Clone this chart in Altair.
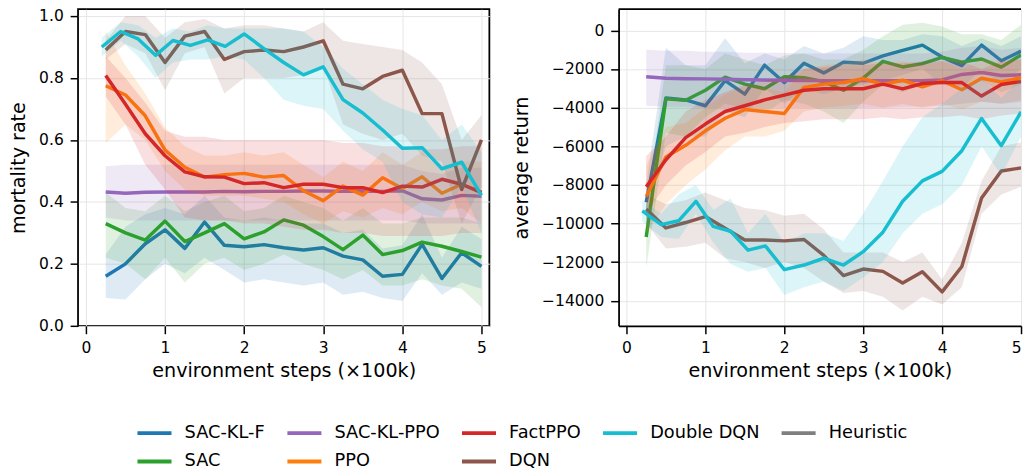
import altair as alt
import pandas as pd

FONT = "DejaVu Sans"

# ---------------- data ----------------
STEPS = [0.25, 0.5, 0.75, 1.0, 1.25, 1.5, 1.75, 2.0, 2.25, 2.5,
         2.75, 3.0, 3.25, 3.5, 3.75, 4.0, 4.25, 4.5, 4.75, 5.0]
DDQN_STEPS = [0.2, 0.44, 0.66, 0.88, 1.1, 1.32, 1.54, 1.76, 2.0, 2.25, 2.5,
              2.75, 3.0, 3.25, 3.5, 3.75, 4.0, 4.25, 4.5, 4.75, 5.0]

LEGEND_ORDER = ["SAC-KL-F", "SAC-KL-PPO", "FactPPO", "Double DQN", "Heuristic",
                "SAC", "PPO", "DQN"]
LEGEND_COLORS = ["#1f77b4", "#9467bd", "#d62728", "#17becf", "#7f7f7f",
                 "#2ca02c", "#ff7f0e", "#8c564b"]
DRAW_ORDER = ["SAC-KL-F", "SAC", "SAC-KL-PPO", "PPO", "FactPPO", "DQN", "Double DQN"]

# mortality rate (left panel)
MORT_SACKLF = [0.16, 0.20, 0.265, 0.31, 0.25, 0.335, 0.26, 0.255, 0.262, 0.252,
               0.245, 0.252, 0.225, 0.213, 0.16, 0.166, 0.263, 0.153, 0.236, 0.192]
MORT_SACKLF_LO = [0.09, 0.085, 0.15, 0.2, 0.17, 0.22, 0.18, 0.14, 0.15, 0.14,
                  0.13, 0.14, 0.1, 0.11, 0.09, 0.08, 0.17, 0.1, 0.14, 0.12]
MORT_SACKLF_HI = [0.23, 0.32, 0.36, 0.38, 0.36, 0.42, 0.35, 0.34, 0.35, 0.34,
                  0.33, 0.33, 0.3, 0.31, 0.25, 0.26, 0.36, 0.22, 0.32, 0.28]

MORT_SAC = [0.33, 0.3, 0.277, 0.338, 0.272, 0.3, 0.33, 0.281, 0.303, 0.342,
            0.325, 0.288, 0.246, 0.293, 0.23, 0.243, 0.27, 0.257, 0.24, 0.222]
MORT_SAC_LO = [0.22, 0.2, 0.15, 0.22, 0.14, 0.2, 0.22, 0.18, 0.2, 0.23,
               0.2, 0.18, 0.15, 0.18, 0.13, 0.13, 0.15, 0.13, 0.12, 0.06]
MORT_SAC_HI = [0.43, 0.38, 0.37, 0.42, 0.37, 0.4, 0.42, 0.37, 0.38, 0.42,
               0.4, 0.38, 0.34, 0.38, 0.33, 0.33, 0.35, 0.35, 0.35, 0.33]

MORT_SACKLPPO = [0.432, 0.428, 0.431, 0.432, 0.432, 0.432, 0.434, 0.433, 0.434, 0.434,
                 0.435, 0.435, 0.434, 0.435, 0.434, 0.436, 0.41, 0.406, 0.421, 0.418]
MORT_SACKLPPO_LO = [0.35, 0.34, 0.34, 0.34, 0.34, 0.34, 0.34, 0.34, 0.34, 0.34,
                    0.34, 0.34, 0.34, 0.34, 0.34, 0.34, 0.33, 0.33, 0.33, 0.33]
MORT_SACKLPPO_HI = [0.515, 0.52, 0.52, 0.52, 0.52, 0.52, 0.52, 0.52, 0.52, 0.52,
                    0.52, 0.52, 0.52, 0.52, 0.52, 0.52, 0.5, 0.49, 0.51, 0.51]

MORT_PPO = [0.775, 0.745, 0.678, 0.567, 0.512, 0.48, 0.488, 0.492, 0.48, 0.485,
            0.436, 0.404, 0.451, 0.422, 0.478, 0.443, 0.481, 0.428, 0.457, 0.432]
MORT_PPO_LO = [0.59, 0.65, 0.6, 0.5, 0.44, 0.42, 0.42, 0.42, 0.41, 0.4,
               0.36, 0.33, 0.37, 0.35, 0.38, 0.36, 0.4, 0.37, 0.38, 0.33]
MORT_PPO_HI = [0.95, 0.84, 0.75, 0.64, 0.58, 0.55, 0.55, 0.56, 0.55, 0.56,
               0.52, 0.48, 0.53, 0.5, 0.56, 0.52, 0.56, 0.5, 0.53, 0.53]

MORT_FACTPPO = [0.808, 0.715, 0.62, 0.549, 0.497, 0.481, 0.48, 0.459, 0.462, 0.446,
                0.457, 0.457, 0.446, 0.446, 0.43, 0.451, 0.448, 0.473, 0.457, 0.43]
MORT_FACTPPO_LO = [0.74, 0.65, 0.52, 0.44, 0.35, 0.34, 0.34, 0.33, 0.33, 0.32,
                   0.31, 0.31, 0.3, 0.3, 0.29, 0.29, 0.29, 0.29, 0.3, 0.3]
MORT_FACTPPO_HI = [0.87, 0.8, 0.72, 0.63, 0.61, 0.61, 0.6, 0.6, 0.6, 0.6,
                   0.6, 0.6, 0.59, 0.59, 0.58, 0.58, 0.57, 0.57, 0.58, 0.58]

MORT_DQN = [0.89, 0.95, 0.94, 0.85, 0.935, 0.95, 0.86, 0.885, 0.89, 0.885,
            0.9, 0.92, 0.78, 0.765, 0.805, 0.825, 0.685, 0.685, 0.44, 0.6]
MORT_DQN_LO = [0.86, 0.91, 0.88, 0.76, 0.88, 0.9, 0.75, 0.8, 0.8, 0.8,
               0.81, 0.84, 0.65, 0.62, 0.6, 0.62, 0.55, 0.53, 0.33, 0.45]
MORT_DQN_HI = [0.92, 1.0, 1.0, 0.93, 0.98, 0.99, 0.96, 0.97, 0.97, 0.96,
               0.95, 0.98, 0.92, 0.91, 0.9, 0.89, 0.85, 0.78, 0.6, 0.68]

MORT_DDQN = [0.9, 0.95, 0.926, 0.873, 0.921, 0.905, 0.923, 0.902, 0.942, 0.895, 0.85,
             0.81, 0.836, 0.73, 0.687, 0.632, 0.573, 0.575, 0.507, 0.528, 0.421]
MORT_DDQN_LO = [0.87, 0.92, 0.87, 0.8, 0.85, 0.86, 0.86, 0.87, 0.86, 0.8, 0.73,
                0.71, 0.7, 0.63, 0.57, 0.53, 0.4, 0.36, 0.35, 0.45, 0.3]
MORT_DDQN_HI = [0.93, 0.98, 0.97, 0.93, 0.96, 0.95, 0.97, 0.96, 0.96, 0.96, 0.96,
                0.95, 0.9, 0.83, 0.78, 0.73, 0.7, 0.68, 0.6, 0.65, 0.56]

# average return (right panel)
RET_SACKLF = [-8900, -3500, -3600, -3900, -2600, -3300, -1800, -2700, -1700, -2200,
              -1650, -1700, -1320, -1030, -760, -1380, -1820, -760, -1570, -1070]
RET_SACKLF_LO = [-9800, -6000, -5500, -5500, -4200, -4500, -3000, -3800, -3000, -3300,
                 -3000, -2800, -2600, -2300, -2000, -2800, -3000, -2000, -2800, -2000]
RET_SACKLF_HI = [-8000, -900, -1800, -1800, -400, -1700, -1200, -1500, -800, -1200,
                 -900, -300, -500, -500, -200, -300, -800, -400, -800, -300]

RET_SAC = [-10700, -3540, -3620, -3100, -2420, -2780, -3020, -2400, -2450, -2650,
           -3100, -2470, -1600, -1890, -1720, -1400, -1640, -1480, -1900, -1270]
RET_SAC_LO = [-12300, -5300, -5500, -4500, -3800, -4000, -4300, -3600, -3800, -4200,
              -4800, -3700, -2800, -3200, -2800, -2700, -2900, -2600, -3200, -2800]
RET_SAC_HI = [-9200, -1800, -1800, -2000, -1200, -1500, -1800, -1300, -1200, -1500,
              -1500, -1000, -300, 300, 400, 200, -200, -200, -500, 300]

RET_SACKLPPO = [-2400, -2480, -2500, -2510, -2530, -2550, -2570, -2580, -2590, -2600,
                -2600, -2600, -2600, -2600, -2600, -2560, -2280, -2180, -2330, -2300]
RET_SACKLPPO_LO = [-3900, -3950, -3950, -4000, -4000, -4000, -4000, -4000, -4000, -4000,
                   -4000, -4000, -4000, -3950, -3950, -3900, -3800, -3700, -3800, -3700]
RET_SACKLPPO_HI = [-1000, -1050, -1050, -1100, -1100, -1150, -1150, -1150, -1200, -1200,
                   -1200, -1200, -1200, -1200, -1200, -1100, -900, -800, -1000, -900]

RET_PPO = [-8600, -6550, -5950, -5200, -4550, -4100, -4200, -4300, -2950, -2780,
           -2700, -2500, -2800, -2580, -2920, -2600, -3070, -2480, -2670, -2450]
RET_PPO_LO = [-10500, -9000, -8000, -7200, -6200, -5500, -5500, -5200, -4200, -4000,
              -3900, -3800, -4000, -3800, -4000, -3800, -4100, -3700, -3800, -3600]
RET_PPO_HI = [-7000, -5000, -4800, -4000, -3300, -2900, -3000, -3200, -2000, -1800,
              -1700, -1500, -1700, -1600, -1800, -1600, -2000, -1500, -1600, -1500]

RET_FACTPPO = [-8100, -6700, -5550, -4850, -4200, -3900, -3600, -3350, -3100, -3020,
               -3020, -3020, -2780, -3030, -2750, -2700, -2700, -3400, -2800, -2650]
RET_FACTPPO_LO = [-9500, -8000, -7000, -6300, -5500, -5300, -5000, -4800, -4700, -4600,
                  -4600, -4600, -4500, -4600, -4500, -4500, -4400, -4600, -4400, -4300]
RET_FACTPPO_HI = [-6500, -5500, -4200, -3600, -3200, -2800, -2600, -2400, -2000, -1900,
                  -1800, -1800, -1700, -1700, -1600, -1600, -1600, -2000, -1600, -1500]

RET_DQN = [-9250, -10230, -9950, -9640, -10250, -10850, -10850, -10900, -10830, -11650,
           -12700, -12360, -12480, -13080, -12500, -13540, -12230, -8680, -7280, -7120]
RET_DQN_LO = [-10000, -11300, -11200, -11000, -11800, -12000, -12300, -12000, -12300, -13000,
              -13600, -13500, -13800, -14500, -13800, -14200, -13300, -9500, -8500, -8100]
RET_DQN_HI = [-8500, -9000, -8800, -8400, -8800, -9200, -9300, -9600, -9500, -10300,
              -11500, -11500, -11500, -12000, -11500, -12900, -11000, -7800, -6000, -5800]

RET_DDQN = [-9350, -10060, -9860, -8850, -10150, -10400, -11380, -11160, -12390, -12150, -11800,
            -12150, -11460, -10450, -8850, -7790, -7300, -6230, -4560, -5970, -4220]
RET_DDQN_LO = [-9900, -10700, -10800, -9500, -11000, -12100, -12500, -12300, -13700, -13300, -13000,
               -13500, -12800, -12000, -10500, -9500, -9000, -8000, -6000, -7500, -5500]
RET_DDQN_HI = [-8800, -9500, -8500, -8000, -9300, -8700, -10500, -9500, -11000, -10500, -10500,
               -10900, -9500, -7800, -6000, -4500, -3800, -3000, -2500, -3500, -2500]


def build_df(series):
    rows = []
    for name, (xs, mean, lo, hi) in series.items():
        for x, m, l, h in zip(xs, mean, lo, hi):
            rows.append({"method": name, "step": x, "mean": m, "lo": l, "hi": h})
    return pd.DataFrame(rows)


mort_df = build_df({
    "SAC-KL-F": (STEPS, MORT_SACKLF, MORT_SACKLF_LO, MORT_SACKLF_HI),
    "SAC": (STEPS, MORT_SAC, MORT_SAC_LO, MORT_SAC_HI),
    "SAC-KL-PPO": (STEPS, MORT_SACKLPPO, MORT_SACKLPPO_LO, MORT_SACKLPPO_HI),
    "PPO": (STEPS, MORT_PPO, MORT_PPO_LO, MORT_PPO_HI),
    "FactPPO": (STEPS, MORT_FACTPPO, MORT_FACTPPO_LO, MORT_FACTPPO_HI),
    "DQN": (STEPS, MORT_DQN, MORT_DQN_LO, MORT_DQN_HI),
    "Double DQN": (DDQN_STEPS, MORT_DDQN, MORT_DDQN_LO, MORT_DDQN_HI),
})
ret_df = build_df({
    "SAC-KL-F": (STEPS, RET_SACKLF, RET_SACKLF_LO, RET_SACKLF_HI),
    "SAC": (STEPS, RET_SAC, RET_SAC_LO, RET_SAC_HI),
    "SAC-KL-PPO": (STEPS, RET_SACKLPPO, RET_SACKLPPO_LO, RET_SACKLPPO_HI),
    "PPO": (STEPS, RET_PPO, RET_PPO_LO, RET_PPO_HI),
    "FactPPO": (STEPS, RET_FACTPPO, RET_FACTPPO_LO, RET_FACTPPO_HI),
    "DQN": (STEPS, RET_DQN, RET_DQN_LO, RET_DQN_HI),
    "Double DQN": (DDQN_STEPS, RET_DDQN, RET_DDQN_LO, RET_DDQN_HI),
})

COLOR_OF = dict(zip(LEGEND_ORDER, LEGEND_COLORS))

# ---------------- styling ----------------
TICK_FS = 15.7
TITLE_FS = 19.4
X_TITLE = "environment steps (×100k)"

color_scale = alt.Scale(domain=LEGEND_ORDER, range=LEGEND_COLORS)
legend = alt.Legend(
    title=None, orient="none", legendX=58, legendY=410, direction="horizontal",
    columns=5, padding=0,
    symbolType="stroke", symbolSize=1190, symbolStrokeWidth=4,
    labelFont=FONT, labelFontSize=18, labelColor="black",
    labelOffset=11, columnPadding=14, rowPadding=-7,
)


def panel(df, y_scale, x_scale, y_axis, x_ax, width, height, right_open):
    layers = []
    for m in DRAW_ORDER:
        base = alt.Chart(df).transform_filter(alt.datum.method == m)
        area = base.mark_area(opacity=0.15, clip=True, color=COLOR_OF[m]).encode(
            x=alt.X("step:Q", scale=x_scale, axis=x_ax),
            y=alt.Y("lo:Q", scale=y_scale, axis=y_axis),
            y2="hi:Q",
        )
        line = base.mark_line(strokeWidth=3.5, strokeJoin="round", clip=True).encode(
            x=alt.X("step:Q", scale=x_scale, axis=x_ax),
            y=alt.Y("mean:Q", scale=y_scale, axis=y_axis),
            color=alt.Color("method:N", scale=color_scale, legend=legend),
        )
        layers += [area, line]
    if right_open:
        # top spine only (the right spine of this panel lies outside the figure)
        spine = alt.Chart(pd.DataFrame({"edge": [0]})).mark_rule(
            color="black", strokeWidth=1.8
        ).encode(x=alt.value(0), x2=alt.value(width), y=alt.value(0))
        layers.append(spine)
        view = alt.ViewBackground(stroke="transparent")
    else:
        view = alt.ViewBackground(stroke="black", strokeWidth=1.8)
    return alt.layer(*layers).properties(width=width, height=height, view=view)


left = panel(
    mort_df,
    alt.Scale(domain=[0, 1.022], nice=False, zero=False),
    alt.Scale(domain=[-0.1, 5.1], nice=False, zero=False),
    alt.Axis(values=[0, 0.2, 0.4, 0.6, 0.8, 1.0], format=".1f", title="mortality rate",
             grid=True, domain=False),
    alt.Axis(values=[0, 1, 2, 3, 4, 5], format="d", title=X_TITLE, grid=True, domain=False),
    417, 321, False,
)
right = panel(
    ret_df,
    alt.Scale(domain=[-15300, 1100], nice=False, zero=False),
    alt.Scale(domain=[-0.1, 5.0], nice=False, zero=False),
    alt.Axis(values=[0, -2000, -4000, -6000, -8000, -10000, -12000, -14000], format="d",
             labelExpr="replace(datum.label, '-', '\u2212')",
             title="average return", grid=True, domain=True),
    alt.Axis(values=[0, 1, 2, 3, 4, 5], format="d", title=X_TITLE, grid=True, domain=True),
    408, 321, True,
)

chart = alt.hconcat(left, right, spacing=21).properties(
    padding={"left": 0, "top": -4, "right": 0, "bottom": 0}
).configure(font=FONT).configure_axis(
    labelFont=FONT, labelFontSize=TICK_FS, labelColor="black",
    titleFont=FONT, titleFontSize=TITLE_FS, titleFontWeight="normal", titleColor="black",
    tickSize=8, tickWidth=1.5, tickColor="black", labelPadding=7,
    domainColor="black", domainWidth=1.8,
    gridColor="#e6e6e6", gridWidth=1,
).configure_axisY(titlePadding=10).configure_axisX(titlePadding=7)

chart.save("out.html", embed_options={"renderer": "svg", "actions": False})
